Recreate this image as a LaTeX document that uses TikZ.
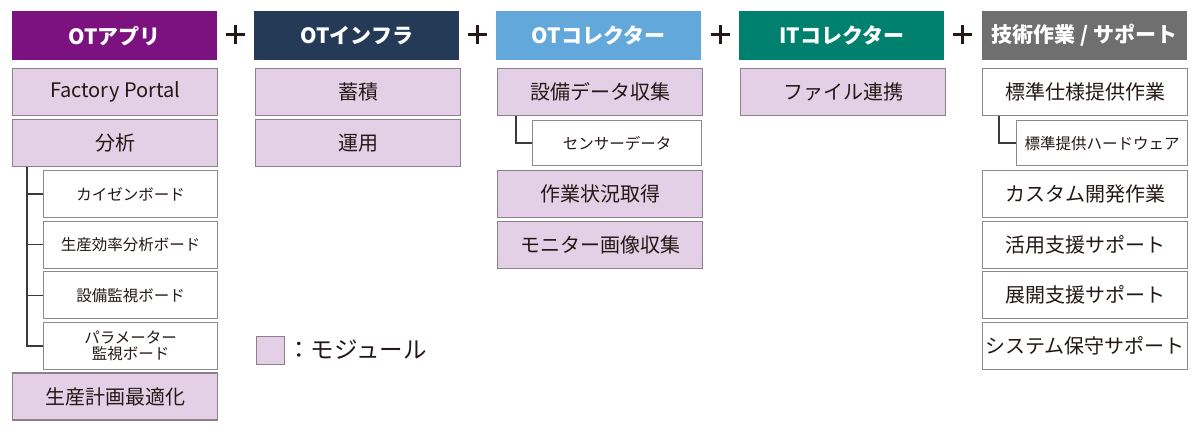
\documentclass[tikz,border=0pt]{standalone}
\usepackage{fontspec}
\setmainfont{Noto Sans CJK JP}
\definecolor{hpurple}{HTML}{7C1280}
\definecolor{hnavy}{HTML}{243A56}
\definecolor{hblue}{HTML}{62A8DB}
\definecolor{hteal}{HTML}{00806F}
\definecolor{hgray}{HTML}{6F6F6F}
\definecolor{modfill}{HTML}{E4D0E6}
\definecolor{modborder}{HTML}{8E8089}
\definecolor{subborder}{HTML}{8A8A8A}
\definecolor{ink}{HTML}{231815}
\definecolor{treeline}{HTML}{3A3A3A}
\begin{document}
\begin{tikzpicture}[x=1pt,y=-1pt,
  hdr/.style={anchor=north west, minimum width=205pt, minimum height=49pt, inner sep=0pt, text=white, font=\fontsize{21}{25}\selectfont\bfseries},
  mod/.style={anchor=north west, draw=modborder, fill=modfill, line width=1.2pt, minimum width=205pt, minimum height=47pt, inner sep=0pt, text=ink, font=\fontsize{20}{24}\selectfont},
  plainbox/.style={mod, fill=white, draw=subborder},
  subbox/.style={anchor=north west, draw=subborder, fill=white, line width=1.2pt, minimum height=47pt, inner sep=0pt, text=ink, font=\fontsize{15.5}{19}\selectfont, align=center},
  tree/.style={draw=treeline, line width=1.5pt},
  plussign/.style={draw=ink, line width=3pt}
]
\useasboundingbox (0,0) rectangle (1200,433);

% headers
\node[hdr, fill=hpurple] (h1) at (12,11) {OTアプリ};
\node[hdr, fill=hnavy] (h2) at (254,11) {OTインフラ};
\node[hdr, fill=hblue] (h3) at (496,11) {OTコレクター};
\node[hdr, fill=hteal] (h4) at (739,11) {ITコレクター};
\node[hdr, fill=hgray] (h5) at (982,11) {技術作業 / サポート};

% plus signs
\foreach \px/\nm in {235/p1,477/p2,720/p3,962/p4}{
  \coordinate (\nm) at (\px,35);
  \draw[plussign] ([xshift=-9.5pt]\nm) -- ([xshift=9.5pt]\nm);
  \draw[plussign] ([yshift=-9.5pt]\nm) -- ([yshift=9.5pt]\nm);
}

% column 1
\node[mod] (fp) at (12,68) {Factory Portal};
\node[mod] (ana) at (12,118.7) {分析};
\node[subbox, minimum width=174pt] (s1) at (43,169.8) {カイゼンボード};
\node[subbox, minimum width=174pt] (s2) at (43,220.5) {生産効率分析ボード};
\node[subbox, minimum width=174pt] (s3) at (43,271.2) {設備監視ボード};
\node[subbox, minimum width=174pt] (s4) at (43,321.9) {パラメーター\\[-3pt]監視ボード};
\node[mod] (plan) at (12,372.4) {生産計画最適化};
\coordinate (t1) at ([xshift=15pt]ana.south west);
\draw[tree] (t1) |- (s4.west);
\draw[tree] (t1 |- s1.west) -- (s1.west);
\draw[tree] (t1 |- s2.west) -- (s2.west);
\draw[tree] (t1 |- s3.west) -- (s3.west);

% column 2
\node[mod] (chik) at (255,68) {蓄積};
\node[mod] (unyo) at (255,118.7) {運用};

% column 3
\node[mod] (setsubi) at (497,68) {設備データ収集};
\node[subbox, minimum width=169pt, minimum height=45pt] (sensor) at (532,120) {センサーデータ};
\node[mod] (sagyo) at (497,169.8) {作業状況取得};
\node[mod] (monitor) at (497,220.5) {モニター画像収集};
\coordinate (t3) at ([xshift=19pt]setsubi.south west);
\draw[tree] (t3) |- (sensor.west);

% column 4
\node[mod] (file) at (740,68) {ファイル連携};

% column 5
\node[plainbox] (hyojun) at (982,68) {標準仕様提供作業};
\node[subbox, minimum width=171pt, minimum height=45pt] (hw) at (1016,120) {標準提供ハードウェア};
\node[plainbox] (custom) at (982,169.8) {カスタム開発作業};
\node[plainbox] (katsuyo) at (982,220.5) {活用支援サポート};
\node[plainbox] (tenkai) at (982,271.2) {展開支援サポート};
\node[plainbox] (hoshu) at (982,321.9) {システム保守サポート};
\coordinate (t5) at ([xshift=17pt]hyojun.south west);
\draw[tree] (t5) |- (hw.west);

% legend
\node[mod, minimum width=28pt, minimum height=28pt] (legbox) at (256,336) {};
\node[anchor=west, inner sep=0pt, text=ink, font=\fontsize{23.5}{27}\selectfont] (legtext) at (287,350) {：モジュール};
\end{tikzpicture}
\end{document}
